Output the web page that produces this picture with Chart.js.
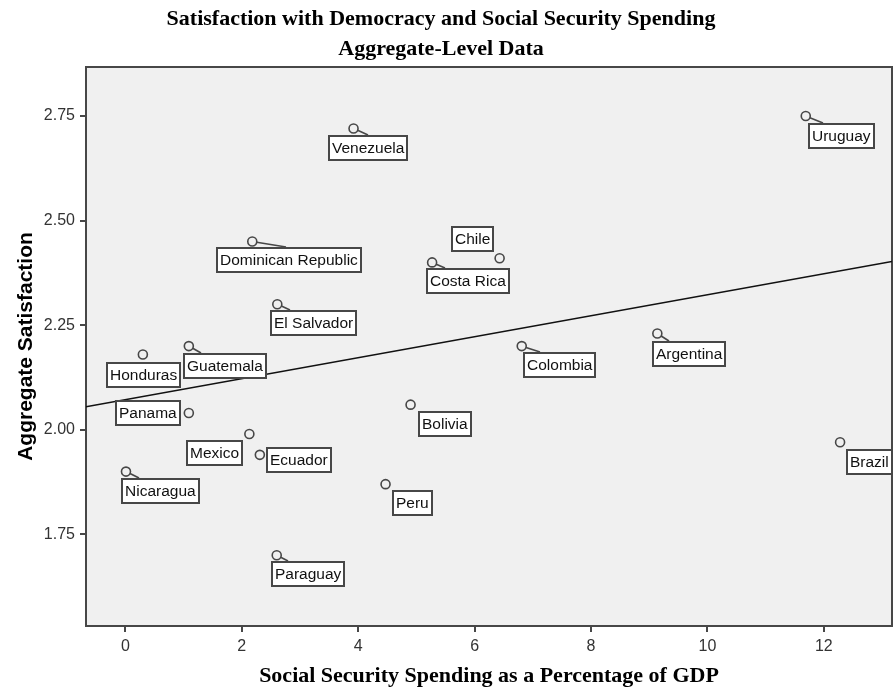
<!DOCTYPE html>
<html>
<head>
<meta charset="utf-8">
<title>Satisfaction with Democracy and Social Security Spending</title>
<script src="https://cdn.jsdelivr.net/npm/chart.js@4.4.1/dist/chart.umd.min.js"></script>
<style>
  html, body { margin: 0; padding: 0; background: #fff; }
  #wrap { width: 893px; height: 692px; }
</style>
</head>
<body>
<div id="wrap"><canvas id="chart" width="893" height="692"></canvas></div>
<script>
(function () {
  const titleLines = ['Satisfaction with Democracy and Social Security Spending', 'Aggregate-Level Data'];
  const xTitle = 'Social Security Spending as a Percentage of GDP';
  const yTitle = 'Aggregate Satisfaction';

  const countries = ['Uruguay', 'Venezuela', 'Dominican Republic', 'Chile', 'Costa Rica', 'El Salvador',
    'Guatemala', 'Honduras', 'Colombia', 'Argentina', 'Panama', 'Bolivia', 'Mexico', 'Ecuador',
    'Brazil', 'Nicaragua', 'Peru', 'Paraguay'];
  const spending = [11.69, 3.92, 2.18, 6.43, 5.27, 2.61, 1.09, 0.30, 6.81, 9.14, 1.09, 4.90, 2.13, 2.31,
    12.28, 0.01, 4.47, 2.60];
  const satisfaction = [2.75, 2.72, 2.45, 2.41, 2.40, 2.30, 2.20, 2.18, 2.20, 2.23, 2.04, 2.06, 1.99, 1.94,
    1.97, 1.90, 1.87, 1.70];

  // fit line end points
  const fitX = [-0.677, 13.172];
  const fitY = [2.055, 2.402];

  const xTicks = [0, 2, 4, 6, 8, 10, 12];
  const yTicks = [1.75, 2.00, 2.25, 2.50, 2.75];

  // label box placement relative to its point (px): dx, dy, which box edge dx refers to, leader end from box left
  const labelPlacement = [
    [2, 7, 'L', 15], [-26, 6, 'L', 40], [-36, 6, 'L', 70], [-6, -32, 'R', null],
    [-6, 6, 'L', 19], [-7, 6, 'L', 20], [-6, 7, 'L', 18], [-37, 8, 'L', null],
    [1, 6, 'L', 17], [-5, 7, 'L', 17], [-8, -13, 'R', null], [7, 6, 'L', null],
    [-6, 6, 'R', null], [6, -8, 'L', null], [6, 7, 'L', null], [-5, 6, 'L', 18],
    [6, 6, 'L', null], [-6, 6, 'L', 17],
  ];

  const sans = '"Liberation Sans", Arial, sans-serif';
  const serif = '"Liberation Serif", "Times New Roman", serif';
  const frame = '#474747';

  const plotFrame = {
    id: 'plotFrame',
    beforeDatasetsDraw(chart) {
      const { ctx, chartArea: a } = chart;
      ctx.save();
      ctx.fillStyle = '#f0f0f0';
      ctx.fillRect(a.left, a.top, a.right - a.left, a.bottom - a.top);
      ctx.strokeStyle = frame;
      ctx.lineWidth = 2;
      ctx.strokeRect(a.left, a.top, a.right - a.left, a.bottom - a.top);
      ctx.restore();
    },
    afterDraw(chart) {
      const { ctx } = chart;
      ctx.save();
      ctx.fillStyle = '#000';
      ctx.font = 'bold 22px ' + serif;
      ctx.textAlign = 'center';
      ctx.textBaseline = 'middle';
      titleLines.forEach((t, i) => ctx.fillText(t, 441, 19 + i * 30));
      ctx.restore();
    },
  };

  const countryLabels = {
    id: 'countryLabels',
    afterDatasetsDraw(chart) {
      const { ctx } = chart;
      const meta = chart.getDatasetMeta(0);
      ctx.save();
      ctx.font = '15.5px ' + sans;
      meta.data.forEach((pt, i) => {
        const [dx, dy, anchor, lead] = labelPlacement[i];
        const w = Math.round(ctx.measureText(countries[i]).width + 8);
        const h = 26;
        const left = Math.round(anchor === 'R' ? pt.x + dx - w : pt.x + dx);
        const top = Math.round(pt.y + dy);
        if (lead !== null) {
          const tx = left + lead, ty = top;
          const len = Math.hypot(tx - pt.x, ty - pt.y);
          ctx.beginPath();
          ctx.moveTo(pt.x + (tx - pt.x) / len * 4.5, pt.y + (ty - pt.y) / len * 4.5);
          ctx.lineTo(tx, ty);
          ctx.strokeStyle = frame;
          ctx.lineWidth = 1.6;
          ctx.stroke();
        }
        ctx.fillStyle = '#fff';
        ctx.fillRect(left, top, w, h);
        ctx.strokeStyle = frame;
        ctx.lineWidth = 2;
        ctx.strokeRect(left + 1, top + 1, w - 2, h - 2);
        ctx.fillStyle = '#111';
        ctx.textAlign = 'left';
        ctx.textBaseline = 'middle';
        ctx.fillText(countries[i], left + 4, top + h / 2 + 1);
      });
      ctx.restore();
    },
  };

  new Chart(document.getElementById('chart'), {
    type: 'scatter',
    data: {
      datasets: [
        {
          data: countries.map((c, i) => ({ x: spending[i], y: satisfaction[i] })),
          pointRadius: 4.5, pointBorderWidth: 1.6, pointBorderColor: frame,
          pointBackgroundColor: 'rgba(0,0,0,0)', order: 1,
        },
        {
          data: fitX.map((x, i) => ({ x: x, y: fitY[i] })),
          showLine: true, pointRadius: 0, borderColor: '#111', borderWidth: 1.5, order: 2,
        },
      ],
    },
    options: {
      responsive: false,
      animation: false,
      events: [],
      layout: { autoPadding: false, padding: { top: 67, right: 1, left: 0, bottom: 0 } },
      plugins: { legend: { display: false }, tooltip: { enabled: false }, title: { display: false } },
      scales: {
        x: {
          type: 'linear', min: -0.677, max: 13.172,
          afterBuildTicks: (s) => { s.ticks = xTicks.map(v => ({ value: v })); },
          afterFit: (s) => { s.height = 66; s.paddingLeft = 0; s.paddingRight = 0; },
          border: { display: false },
          grid: { drawOnChartArea: false, drawTicks: true, tickLength: 6, color: frame, lineWidth: 2 },
          ticks: { autoSkip: false, maxRotation: 0, padding: 5, color: '#333', font: { family: sans, size: 16 } },
          title: { display: true, text: xTitle, color: '#000', padding: { top: 0, bottom: 2 },
            font: { family: serif, size: 22, weight: 'bold' } },
        },
        y: {
          type: 'linear', min: 1.531, max: 2.867,
          afterBuildTicks: (s) => { s.ticks = yTicks.map(v => ({ value: v })); },
          afterFit: (s) => { s.width = 86; s.paddingTop = 0; s.paddingBottom = 0; },
          border: { display: false },
          grid: { drawOnChartArea: false, drawTicks: true, tickLength: 6, color: frame, lineWidth: 2 },
          ticks: { autoSkip: false, padding: 5, color: '#333', font: { family: sans, size: 16 },
            callback: (v) => Number(v).toFixed(2) },
          title: { display: true, text: yTitle, color: '#000', padding: { top: 14, bottom: 0 },
            font: { family: sans, size: 21, weight: 'bold' } },
        },
      },
    },
    plugins: [plotFrame, countryLabels],
  });
})();
</script>
</body>
</html>
